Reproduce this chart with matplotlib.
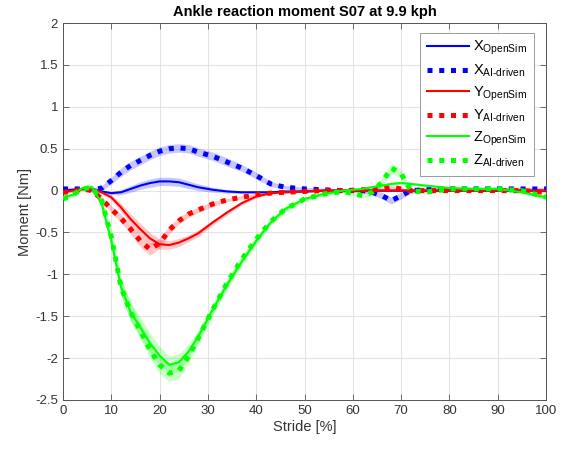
import matplotlib
matplotlib.use("Agg")
import matplotlib.pyplot as plt
import numpy as np

plt.rcParams['font.family'] = ['Liberation Sans', 'DejaVu Sans']
plt.rcParams['mathtext.fontset'] = 'custom'
plt.rcParams['mathtext.rm'] = 'Liberation Sans'
plt.rcParams['mathtext.it'] = 'Liberation Sans:italic'
plt.rcParams['mathtext.bf'] = 'Liberation Sans:bold'

stride = [0, 2, 4, 6, 8, 10, 12, 14, 16, 18, 20, 22, 24, 26, 28, 31, 34, 37, 40, 43,
          46, 50, 54, 58, 62, 64, 66, 68, 70, 72, 75, 80, 85, 90, 95, 100]

x_opensim = [0.0, 0.01, 0.02, 0.02, -0.01, -0.03, -0.02, 0.02, 0.06, 0.09, 0.11, 0.11, 0.10, 0.07,
             0.04, 0.01, -0.01, -0.02, -0.02, -0.02, -0.01, -0.01, 0.0, 0.0, 0.0, 0.0, 0.0, 0.0,
             0.0, 0.0, 0.0, 0.0, 0.0, 0.0, 0.0, 0.0]
x_opensim_sd = [0.01, 0.01, 0.01, 0.01, 0.01, 0.02, 0.03, 0.04, 0.045, 0.05, 0.05, 0.05, 0.05, 0.045,
                0.04, 0.03, 0.02, 0.015, 0.01, 0.01, 0.01, 0.01, 0.01, 0.01, 0.01, 0.01, 0.01, 0.01,
                0.01, 0.01, 0.01, 0.01, 0.01, 0.01, 0.01, 0.01]
x_ai = [0.02, 0.02, 0.02, 0.01, 0.03, 0.12, 0.22, 0.30, 0.36, 0.42, 0.47, 0.50, 0.51, 0.50, 0.46,
        0.41, 0.34, 0.27, 0.18, 0.08, 0.04, 0.02, 0.01, 0.0, 0.0, -0.02, -0.06, -0.12, -0.06, 0.0,
        0.01, 0.02, 0.02, 0.02, 0.02, 0.02]
x_ai_sd = [0.02, 0.02, 0.02, 0.02, 0.03, 0.04, 0.05, 0.05, 0.05, 0.05, 0.05, 0.05, 0.05, 0.05, 0.05,
           0.05, 0.05, 0.04, 0.04, 0.03, 0.02, 0.02, 0.02, 0.02, 0.02, 0.03, 0.04, 0.04, 0.04, 0.03,
           0.02, 0.02, 0.02, 0.02, 0.02, 0.02]

y_opensim = [-0.02, 0.0, 0.02, 0.02, -0.02, -0.08, -0.20, -0.34, -0.46, -0.57, -0.64, -0.65, -0.62,
             -0.57, -0.51, -0.38, -0.26, -0.15, -0.07, -0.03, -0.02, -0.01, 0.0, 0.0, 0.0, 0.0, 0.0,
             0.0, 0.0, 0.0, 0.0, 0.0, 0.0, 0.0, 0.0, 0.0]
y_opensim_sd = [0.01, 0.01, 0.01, 0.02, 0.02, 0.03, 0.05, 0.06, 0.07, 0.07, 0.06, 0.05, 0.05, 0.04,
                0.04, 0.03, 0.03, 0.02, 0.02, 0.01, 0.01, 0.01, 0.01, 0.01, 0.01, 0.01, 0.01, 0.01,
                0.01, 0.01, 0.01, 0.01, 0.01, 0.01, 0.01, 0.01]
y_ai = [-0.02, -0.01, 0.02, 0.0, -0.10, -0.22, -0.33, -0.46, -0.60, -0.70, -0.63, -0.47, -0.36, -0.28,
        -0.23, -0.16, -0.11, -0.08, -0.05, -0.03, -0.02, -0.01, 0.0, 0.0, 0.01, 0.01, 0.02, 0.04,
        0.02, 0.0, 0.0, 0.0, 0.0, 0.0, 0.0, -0.02]
y_ai_sd = [0.01, 0.01, 0.01, 0.02, 0.03, 0.04, 0.05, 0.06, 0.07, 0.07, 0.06, 0.05, 0.04, 0.04, 0.03,
           0.03, 0.02, 0.02, 0.02, 0.01, 0.01, 0.01, 0.01, 0.01, 0.01, 0.02, 0.02, 0.02, 0.02, 0.01,
           0.01, 0.01, 0.01, 0.01, 0.01, 0.01]

z_opensim = [-0.08, -0.05, 0.03, 0.04, -0.15, -0.60, -1.15, -1.45, -1.63, -1.82, -1.97, -2.08, -2.05,
             -1.92, -1.74, -1.42, -1.12, -0.85, -0.60, -0.38, -0.22, -0.10, -0.04, 0.0, 0.02, 0.04,
             0.06, 0.08, 0.09, 0.08, 0.06, 0.03, 0.02, 0.02, -0.02, -0.08]
z_opensim_sd = [0.02, 0.02, 0.02, 0.03, 0.05, 0.08, 0.10, 0.12, 0.12, 0.12, 0.11, 0.10, 0.10, 0.08,
                0.07, 0.06, 0.05, 0.05, 0.04, 0.03, 0.03, 0.02, 0.02, 0.02, 0.02, 0.02, 0.02, 0.02,
                0.02, 0.02, 0.02, 0.02, 0.02, 0.02, 0.02, 0.02]
z_ai = [-0.10, -0.05, 0.02, 0.04, -0.12, -0.55, -1.15, -1.45, -1.67, -1.90, -2.08, -2.18, -2.15,
        -1.98, -1.76, -1.42, -1.10, -0.82, -0.58, -0.37, -0.22, -0.10, -0.04, -0.01, -0.06, -0.02,
        0.10, 0.27, 0.20, 0.0, -0.02, 0.02, 0.02, 0.02, 0.0, -0.08]
z_ai_sd = [0.02, 0.02, 0.02, 0.03, 0.05, 0.08, 0.10, 0.10, 0.10, 0.10, 0.10, 0.10, 0.09, 0.08, 0.07,
           0.06, 0.05, 0.04, 0.04, 0.03, 0.03, 0.02, 0.02, 0.02, 0.03, 0.04, 0.05, 0.06, 0.05, 0.03,
           0.02, 0.02, 0.02, 0.02, 0.02, 0.02]

labels = [r'X$_{\mathrm{OpenSim}}$', r'X$_{\text{AI-driven}}$',
          r'Y$_{\mathrm{OpenSim}}$', r'Y$_{\text{AI-driven}}$',
          r'Z$_{\mathrm{OpenSim}}$', r'Z$_{\text{AI-driven}}$']
series = [(x_opensim, x_opensim_sd), (x_ai, x_ai_sd),
          (y_opensim, y_opensim_sd), (y_ai, y_ai_sd),
          (z_opensim, z_opensim_sd), (z_ai, z_ai_sd)]
colors = ['#0000ff', '#0000ff', '#ff0000', '#ff0000', '#00ff00', '#00ff00']

fig = plt.figure(figsize=(5.70, 4.53), dpi=100)
ax = fig.add_axes([0.1105, 0.117, 0.8475, 0.832])

xs = np.array(stride)
for (m, sd), c in zip(series, colors):
    m = np.array(m); sd = np.array(sd)
    ax.fill_between(xs, m - sd, m + sd, color=c, alpha=0.22, linewidth=0, zorder=1)

for i, ((m, sd), c, lab) in enumerate(zip(series, colors, labels)):
    if i % 2 == 0:
        ax.plot(xs, m, color=c, lw=1.5, label=lab, zorder=3)
    else:
        ax.plot(xs, m, color=c, lw=3.6, linestyle=(0, (1.0, 1.35)),
                dash_capstyle='butt', label=lab, zorder=3)

ax.set_xlim(0, 100)
ax.set_ylim(-2.5, 2)
ax.set_xticks(np.arange(0, 101, 10))
ax.set_yticks(np.arange(-2.5, 2.01, 0.5))
ax.set_yticklabels(['-2.5', '-2', '-1.5', '-1', '-0.5', '0', '0.5', '1', '1.5', '2'])
ax.grid(True, color='#e3e3e3', linewidth=0.8, zorder=0)
ax.set_axisbelow(True)
ax.tick_params(direction='in', top=True, right=True, length=4, width=0.6,
               colors='#555555', labelcolor='#333333', labelsize=9.5)
for s in ax.spines.values():
    s.set_color('#555555')
    s.set_linewidth(0.7)

ax.set_xlabel('Stride [%]', fontsize=10.5, color='#333333', labelpad=2)
ax.set_ylabel('Moment [Nm]', fontsize=10.5, color='#333333', labelpad=2)
ax.set_title('Ankle reaction moment S07 at 9.9 kph', fontsize=10.5, fontweight='bold', pad=5)

leg = ax.legend(loc='upper right', bbox_to_anchor=(0.975, 0.975), fontsize=10.5,
                handlelength=2.9, labelspacing=0.36, borderpad=0.45, handletextpad=0.3,
                borderaxespad=0.0,
                fancybox=False, framealpha=1, edgecolor='#9a9a9a')
leg.get_frame().set_linewidth(0.7)

fig.savefig('out.png', dpi=100)
